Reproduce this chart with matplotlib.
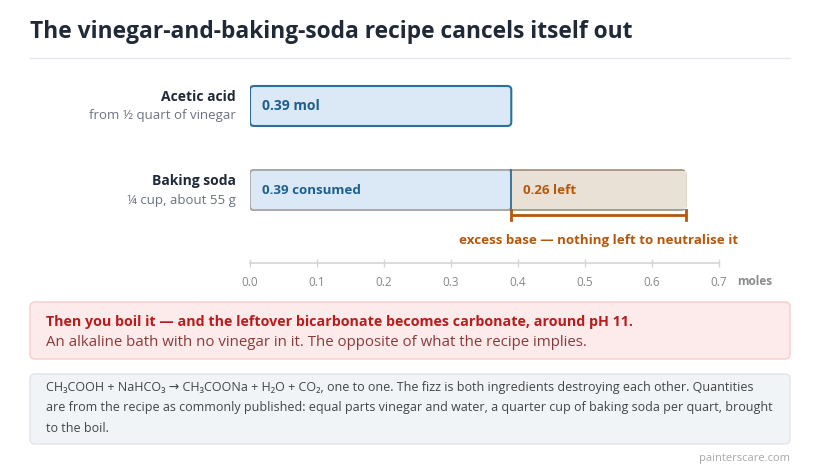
import matplotlib
matplotlib.use("Agg")
import matplotlib.pyplot as plt
from matplotlib.patches import FancyBboxPatch
from matplotlib.lines import Line2D

plt.rcParams['font.family'] = ['Open Sans', 'DejaVu Sans']

# data
rows = ["Acetic acid", "Baking soda"]
row_notes = ["from \u00bd quart of vinegar", "\u00bc cup, about 55 g"]
acid_mol = 0.39
consumed_mol = 0.39
left_mol = 0.26
ticks = [0.0, 0.1, 0.2, 0.3, 0.4, 0.5, 0.6, 0.7]

title = "The vinegar-and-baking-soda recipe cancels itself out"
warn_head = "Then you boil it \u2014 and the leftover bicarbonate becomes carbonate, around pH 11."
warn_body = "An alkaline bath with no vinegar in it. The opposite of what the recipe implies."
note_lines = [
    "CH\u2083COOH + NaHCO\u2083 \u2192 CH\u2083COONa + H\u2082O + CO\u2082, one to one. The fizz is both ingredients destroying each other. Quantities",
    "are from the recipe as commonly published: equal parts vinegar and water, a quarter cup of baking soda per quart, brought",
    "to the boil.",
]

BLUE = "#1f5f8b"
BLUE_FILL = "#dbe8f5"
BLUE_EDGE = "#2e6f98"
BROWN = "#b4580f"
TAN_FILL = "#e9e1d5"
TAN_EDGE = "#a39782"

W, H = 820, 470
fig = plt.figure(figsize=(W / 100, H / 100), dpi=100)
fig.patch.set_facecolor("white")

def fx(px):
    return px / W

def fy(py):
    return 1 - py / H

# header
fig.text(fx(30), fy(32), title, fontsize=16.4, fontweight="bold", color="#1f2937", va="center")
fig.add_artist(Line2D([fx(30), fx(790)], [fy(58), fy(58)], color="#e5e7eb", lw=1))

# chart axes
ax = fig.add_axes([fx(250), fy(263), fx(719) - fx(250), (263 - 75) / H])
ax.set_xlim(0, 0.7)
ax.set_ylim(1.869, -0.369)
for s in ["top", "right", "left"]:
    ax.spines[s].set_visible(False)
ax.spines["bottom"].set_color("#d4d4d4")
ax.spines["bottom"].set_linewidth(1.2)
ax.set_yticks([])
ax.set_xticks(ticks)
ax.set_xticklabels([f"{t:.1f}" for t in ticks])
ax.tick_params(axis="x", colors="#d4d4d4", labelcolor="#888888", labelsize=8.5,
               direction="inout", length=6, width=1, pad=6)
ax.text(1.038, -0.1, "moles", transform=ax.transAxes, fontsize=8.5, fontweight="bold",
        color="#8a8a8a", va="center", ha="left")

bh = 0.476
aspect = (1 / 84) / (1 / 670)

def rbar(x0, w, y, fc, ec, lw=1.3):
    p = FancyBboxPatch((x0, y - bh / 2), w, bh, boxstyle="round,pad=0,rounding_size=0.006",
                       mutation_aspect=aspect, fc=fc, ec=ec, lw=lw)
    ax.add_patch(p)

# acetic acid bar
rbar(0, acid_mol, 0, BLUE_FILL, BLUE_EDGE, 1.5)
ax.text(0.018, 0, f"{acid_mol:.2f} mol", fontsize=10, fontweight="bold", color=BLUE, va="center")

# baking soda bar: consumed + left
rbar(0, consumed_mol + left_mol, 1, TAN_FILL, TAN_EDGE)
rbar(0, consumed_mol, 1, BLUE_FILL, "#a8a8a8")
ax.barh(1, left_mol, left=consumed_mol, height=bh - 0.02, color=TAN_FILL, lw=0)
ax.plot([consumed_mol, consumed_mol], [1 - bh / 2, 1 + bh / 2], color=BLUE_EDGE, lw=1.3)
ax.text(0.018, 1, f"{consumed_mol:.2f} consumed", fontsize=9.6, fontweight="bold", color=BLUE, va="center")
ax.text(consumed_mol + 0.017, 1, f"{left_mol:.2f} left", fontsize=9.6, fontweight="bold", color=BROWN, va="center")

# bracket
yb = 1 + 25 / 84
tk = 5 / 84
end = consumed_mol + left_mol
ax.plot([consumed_mol, end], [yb, yb], color=BROWN, lw=2, solid_capstyle="butt")
ax.plot([consumed_mol, consumed_mol], [yb - tk, yb + tk], color=BROWN, lw=2)
ax.plot([end, end], [yb - tk, yb + tk], color=BROWN, lw=2)
ax.text((consumed_mol + end) / 2, 1 + 50 / 84, "excess base \u2014 nothing left to neutralise it",
        fontsize=9.6, fontweight="bold", color=BROWN, ha="center", va="center")

# row labels
for i, (name, note) in enumerate(zip(rows, row_notes)):
    ax.text(-0.021, i - 9 / 84, name, fontsize=10, fontweight="bold", color="#1f2937",
            ha="right", va="center", clip_on=False)
    ax.text(-0.021, i + 10 / 84, note, fontsize=9.5, color="#6b7280",
            ha="right", va="center", clip_on=False)

# warning box
fig.add_artist(FancyBboxPatch((fx(30), fy(359)), fx(760), (359 - 302) / H,
                              boxstyle="round,pad=0,rounding_size=0.006",
                              mutation_aspect=W / H, fc="#fdeaea", ec="#f6cccc", lw=1,
                              transform=fig.transFigure))
fig.text(fx(46), fy(322), warn_head, fontsize=10.3, fontweight="bold", color="#b91c1c", va="center")
fig.text(fx(46), fy(342), warn_body, fontsize=10.8, color="#8a3a3a", va="center")

# note box
fig.add_artist(FancyBboxPatch((fx(30), fy(444)), fx(760), (444 - 374) / H,
                              boxstyle="round,pad=0,rounding_size=0.006",
                              mutation_aspect=W / H, fc="#f1f4f7", ec="#e1e5ea", lw=1,
                              transform=fig.transFigure))
for i, line in enumerate(note_lines):
    fig.text(fx(46), fy(388 + 20 * i), line, fontsize=9.0, color="#444444", va="center")

fig.text(fx(790), fy(458), "painterscare.com", fontsize=8, color="#a8a8a8", ha="right", va="center")

fig.savefig("out.png", dpi=100)
